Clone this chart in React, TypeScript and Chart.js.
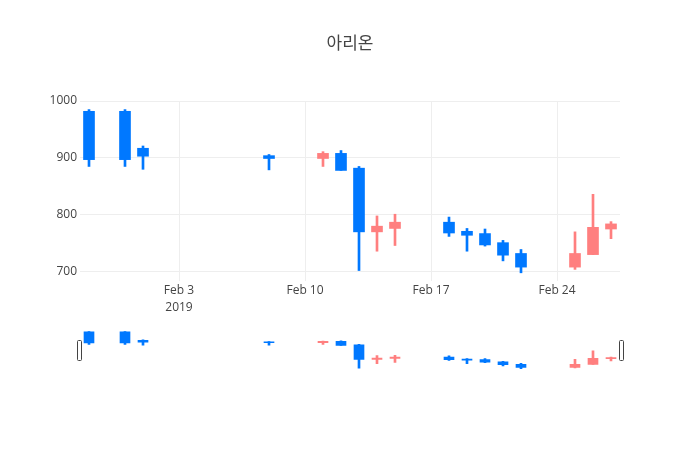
import React, { useEffect, useRef } from "react";
import { Chart, registerables } from "chart.js";

Chart.register(...registerables);

const title = "아리온";
const dates = [
  "2019-01-29", "2019-01-31", "2019-02-01", "2019-02-08", "2019-02-11", "2019-02-12",
  "2019-02-13", "2019-02-14", "2019-02-15", "2019-02-18", "2019-02-19", "2019-02-20",
  "2019-02-21", "2019-02-22", "2019-02-25", "2019-02-26", "2019-02-27",
];
const opens = [982, 982, 917, 904, 899, 908, 882, 770, 776, 787, 771, 767, 751, 732, 708, 730, 775];
const closes = [897, 897, 903, 899, 908, 878, 770, 780, 787, 768, 764, 747, 729, 708, 732, 778, 784];
const highs = [985, 985, 921, 906, 911, 913, 885, 798, 801, 796, 776, 775, 755, 739, 770, 836, 788];
const lows = [885, 885, 880, 879, 885, 878, 702, 736, 746, 762, 736, 745, 719, 698, 704, 730, 758];

const tickDates = ["2019-02-03", "2019-02-10", "2019-02-17", "2019-02-24"];
const tickLabels: (string | string[])[] = [["Feb 3", "2019"], "Feb 10", "Feb 17", "Feb 24"];
const yTicks = [700, 800, 900, 1000];
const xRange = ["2019-01-28T12:00:00Z", "2019-02-27T12:00:00Z"];
const yRange = [683.6, 1000.1];

const UP = "#ff7f7f";
const DOWN = "#0078ff";
const FONT = "'Open Sans', 'Noto Sans CJK KR', sans-serif";

const base = Date.UTC(2019, 0, 0);
function dayNum(s: string): number {
  const d = new Date(s.length <= 10 ? s + "T00:00:00Z" : s);
  return (d.getTime() - base) / 86400000;
}

function datasets(bodyW: number) {
  const xs = dates.map(dayNum);
  const colors = opens.map((o, i) => (closes[i] >= o ? UP : DOWN));
  return [
    {
      label: "wick",
      data: xs.map((x, i) => ({ x, y: [lows[i], highs[i]] })),
      backgroundColor: colors,
      barThickness: 2,
      grouped: false,
      order: 2,
    },
    {
      label: "body",
      data: xs.map((x, i) => ({ x, y: [opens[i], closes[i]] })),
      backgroundColor: colors,
      barThickness: bodyW,
      grouped: false,
      order: 1,
    },
  ];
}

const titlePlugin = {
  id: "titleText",
  afterDraw(chart: any) {
    const ctx = chart.ctx;
    ctx.save();
    ctx.font = `17px ${FONT}`;
    ctx.fillStyle = "#444";
    ctx.textAlign = "center";
    ctx.textBaseline = "middle";
    ctx.fillText(title, 350, 44);
    ctx.restore();
  },
};

const handlesPlugin = {
  id: "handles",
  afterDraw(chart: any) {
    const { ctx, chartArea } = chart;
    const cy = (chartArea.top + chartArea.bottom) / 2;
    ctx.save();
    ctx.strokeStyle = "#444";
    ctx.fillStyle = "#fff";
    ctx.lineWidth = 1;
    const draw = (cx: number) => {
      const w = 4, h = 20;
      const x = Math.round(cx - w / 2) + 0.5, y = Math.round(cy - h / 2) + 0.5;
      ctx.beginPath();
      ctx.roundRect(x, y, w, h, 1);
      ctx.fill();
      ctx.stroke();
    };
    draw(chartArea.left - 1);
    draw(chartArea.right + 1);
    ctx.restore();
  },
};

export default function App() {
  const mainRef = useRef<HTMLCanvasElement>(null);
  const sliderRef = useRef<HTMLCanvasElement>(null);

  useEffect(() => {
    document.body.style.margin = "0";
    const xMin = dayNum(xRange[0]);
    const xMax = dayNum(xRange[1]);
    const tickDays = tickDates.map(dayNum);

    const main = new Chart(mainRef.current!, {
      type: "bar",
      data: { datasets: datasets(11) as any },
      plugins: [titlePlugin],
      options: {
        animation: false,
        responsive: false,
        layout: { padding: { left: 0, right: 80, top: 101, bottom: 450 - 281 - 60 } },
        plugins: { legend: { display: false }, tooltip: { enabled: false }, title: { display: false } },
        scales: {
          x: {
            type: "linear",
            min: xMin,
            max: xMax,
            offset: false,
            afterFit: (s: any) => { s.height = 60; },
            afterBuildTicks: (s: any) => { s.ticks = tickDays.map((v) => ({ value: v })); },
            grid: { color: "#eee", drawTicks: false, lineWidth: 1, offset: false },
            border: { display: false },
            ticks: {
              padding: 1,
              color: "#444",
              font: { family: FONT, size: 12, lineHeight: 1.4 },
              maxRotation: 0,
              autoSkip: false,
              callback: (v: any) => {
                const i = tickDays.findIndex((t) => Math.abs(t - v) < 1e-6);
                return i >= 0 ? (tickLabels[i] as any) : "";
              },
            },
          },
          y: {
            type: "linear",
            min: yRange[0],
            max: yRange[1],
            afterFit: (s: any) => { s.width = 80; },
            afterBuildTicks: (s: any) => { s.ticks = yTicks.map((v) => ({ value: v })); },
            grid: { color: "#eee", drawTicks: false, lineWidth: 1 },
            border: { display: false },
            ticks: {
              padding: 3,
              color: "#444",
              font: { family: FONT, size: 12 },
              callback: (v: any) => String(v),
            },
          },
        },
      },
    });

    const slider = new Chart(sliderRef.current!, {
      type: "bar",
      data: { datasets: datasets(10) as any },
      plugins: [handlesPlugin],
      options: {
        animation: false,
        responsive: false,
        layout: { padding: { left: 80, right: 80, top: 9.5, bottom: 9.5 } },
        plugins: { legend: { display: false }, tooltip: { enabled: false } },
        scales: {
          x: { type: "linear", min: xMin, max: xMax, offset: false, display: false },
          y: { type: "linear", min: yRange[0], max: yRange[1], display: false },
        },
      },
    });

    return () => {
      main.destroy();
      slider.destroy();
    };
  }, []);

  return (
    <div style={{ position: "relative", width: 700, height: 450, background: "#fff" }}>
      <canvas ref={mainRef} width={700} height={450} style={{ position: "absolute", left: 0, top: 0 }} />
      <canvas ref={sliderRef} width={700} height={60} style={{ position: "absolute", left: 0, top: 320 }} />
    </div>
  );
}
